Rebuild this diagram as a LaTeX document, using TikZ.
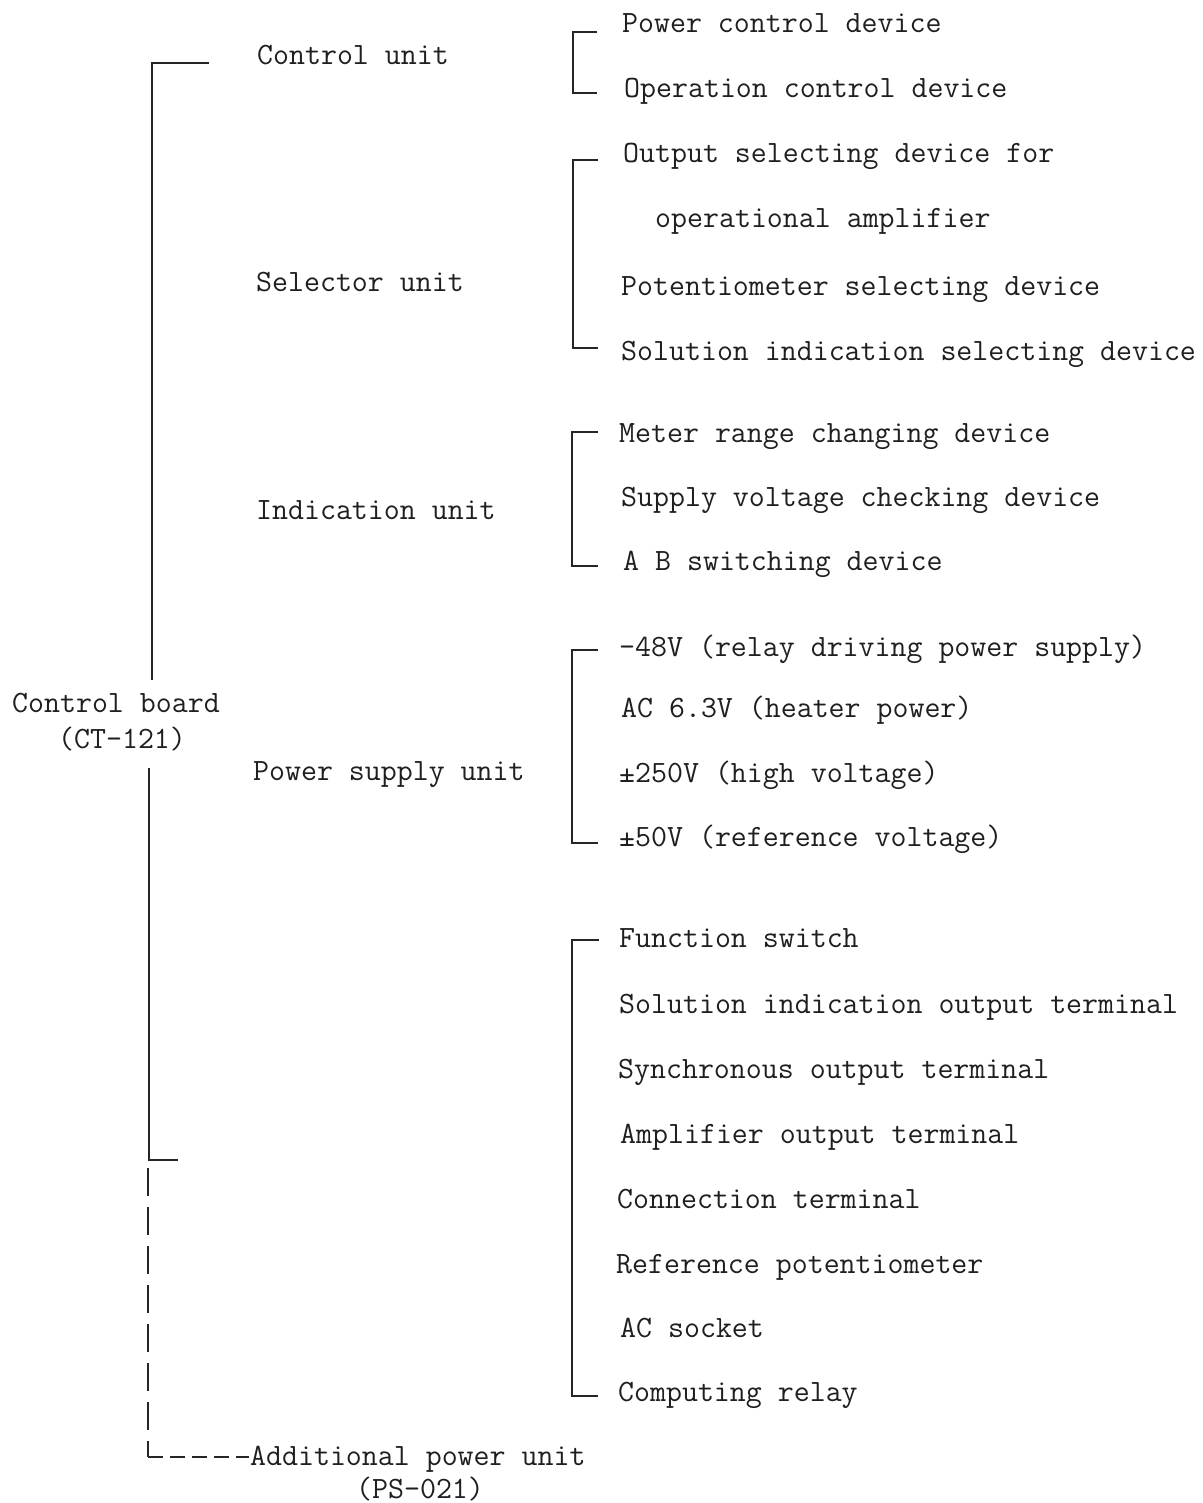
\documentclass[tikz,border=0pt]{standalone}
\usepackage{fontspec}
\begin{document}
\begin{tikzpicture}[x=1pt,y=-1pt,
  ink/.style={line width=1.8pt,draw=black!85},
  lbl/.style={anchor=base west,inner sep=0pt,text=black!88,font=\fontsize{31}{36}\selectfont\ttfamily},
  dashv/.style={ink,dash pattern=on 28pt off 11pt},
  dashh/.style={ink,dash pattern=on 15pt off 7pt}]
\useasboundingbox (0,0) rectangle (1202,1503);
\fill[white] (0,0) rectangle (1202,1503);

% unit labels
\node[lbl] (cu) at (257,65) {Control unit};
\node[lbl] (su) at (256,292) {Selector unit};
\node[lbl] (iu) at (256,519) {Indication unit};
\node[lbl] (pu) at (253,780) {Power supply unit};
\node[lbl] (cb1) at (12,712) {Control board};
\node[lbl] (cb2) at (58,748) {(CT-121)};
\node[lbl] (ap1) at (250,1465) {Additional power unit};
\node[lbl] (ap2) at (356,1498) {(PS-021)};

% group 1
\node[lbl] (a1) at (622,33) {Power control device};
\node[lbl] (a2) at (624,98) {Operation control device};
% group 2
\node[lbl] (b1) at (623,163) {Output selecting device for};
\node[lbl] (b2) at (655,228) {operational amplifier};
\node[lbl] (b3) at (621,295) {Potentiometer selecting device};
\node[lbl] (b4) at (621,360) {Solution indication selecting device};
% group 3
\node[lbl] (c1) at (619,442) {Meter range changing device};
\node[lbl] (c2) at (621,506) {Supply voltage checking device};
\node[lbl] (c3) at (623,570) {A B switching device};
% group 4
\node[lbl] (d1) at (619,656) {-48V (relay driving power supply)};
\node[lbl] (d2) at (621,717) {AC 6.3V (heater power)};
\node[lbl] (d3) at (619,782) {±250V (high voltage)};
\node[lbl] (d4) at (619,846) {±50V (reference voltage)};
% group 5
\node[lbl] (e1) at (619,947) {Function switch};
\node[lbl] (e2) at (619,1013) {Solution indication output terminal};
\node[lbl] (e3) at (618,1078) {Synchronous output terminal};
\node[lbl] (e4) at (620,1143) {Amplifier output terminal};
\node[lbl] (e5) at (617,1208) {Connection terminal};
\node[lbl] (e6) at (616,1273) {Reference potentiometer};
\node[lbl] (e7) at (620,1337) {AC socket};
\node[lbl] (e8) at (618,1401) {Computing relay};

% main bracket
\coordinate (m0) at (209,63);
\coordinate (m1) at (152,63);
\coordinate (m2) at (152,680);
\coordinate (m3) at (149,768);
\coordinate (m4) at (149,1160);
\coordinate (m5) at (178,1160);
\coordinate (m6) at (148,1168);
\coordinate (m7) at (148,1457);
\coordinate (m8) at (249,1457);
\draw[ink] (m0) -- (m1) -- (m2);
\draw[ink] (m3) -- (m4) -- (m5);
\draw[dashv] (m6) -- (m7);
\draw[dashh] (m7) -- (m8);

% sub brackets
\coordinate (g1t) at (597,32);  \coordinate (g1b) at (597,93);
\coordinate (g2t) at (598,160); \coordinate (g2b) at (598,348);
\coordinate (g3t) at (598,432); \coordinate (g3b) at (598,566);
\coordinate (g4t) at (598,650); \coordinate (g4b) at (598,843);
\coordinate (g5t) at (599,940); \coordinate (g5b) at (598,1396);
\draw[ink] (g1t) -- (573,32) -- (573,93) -- (g1b);
\draw[ink] (g2t) -- (573,160) -- (573,348) -- (g2b);
\draw[ink] (g3t) -- (572,432) -- (572,566) -- (g3b);
\draw[ink] (g4t) -- (572,650) -- (572,843) -- (g4b);
\draw[ink] (g5t) -- (572,940) -- (572,1396) -- (g5b);
\end{tikzpicture}
\end{document}
